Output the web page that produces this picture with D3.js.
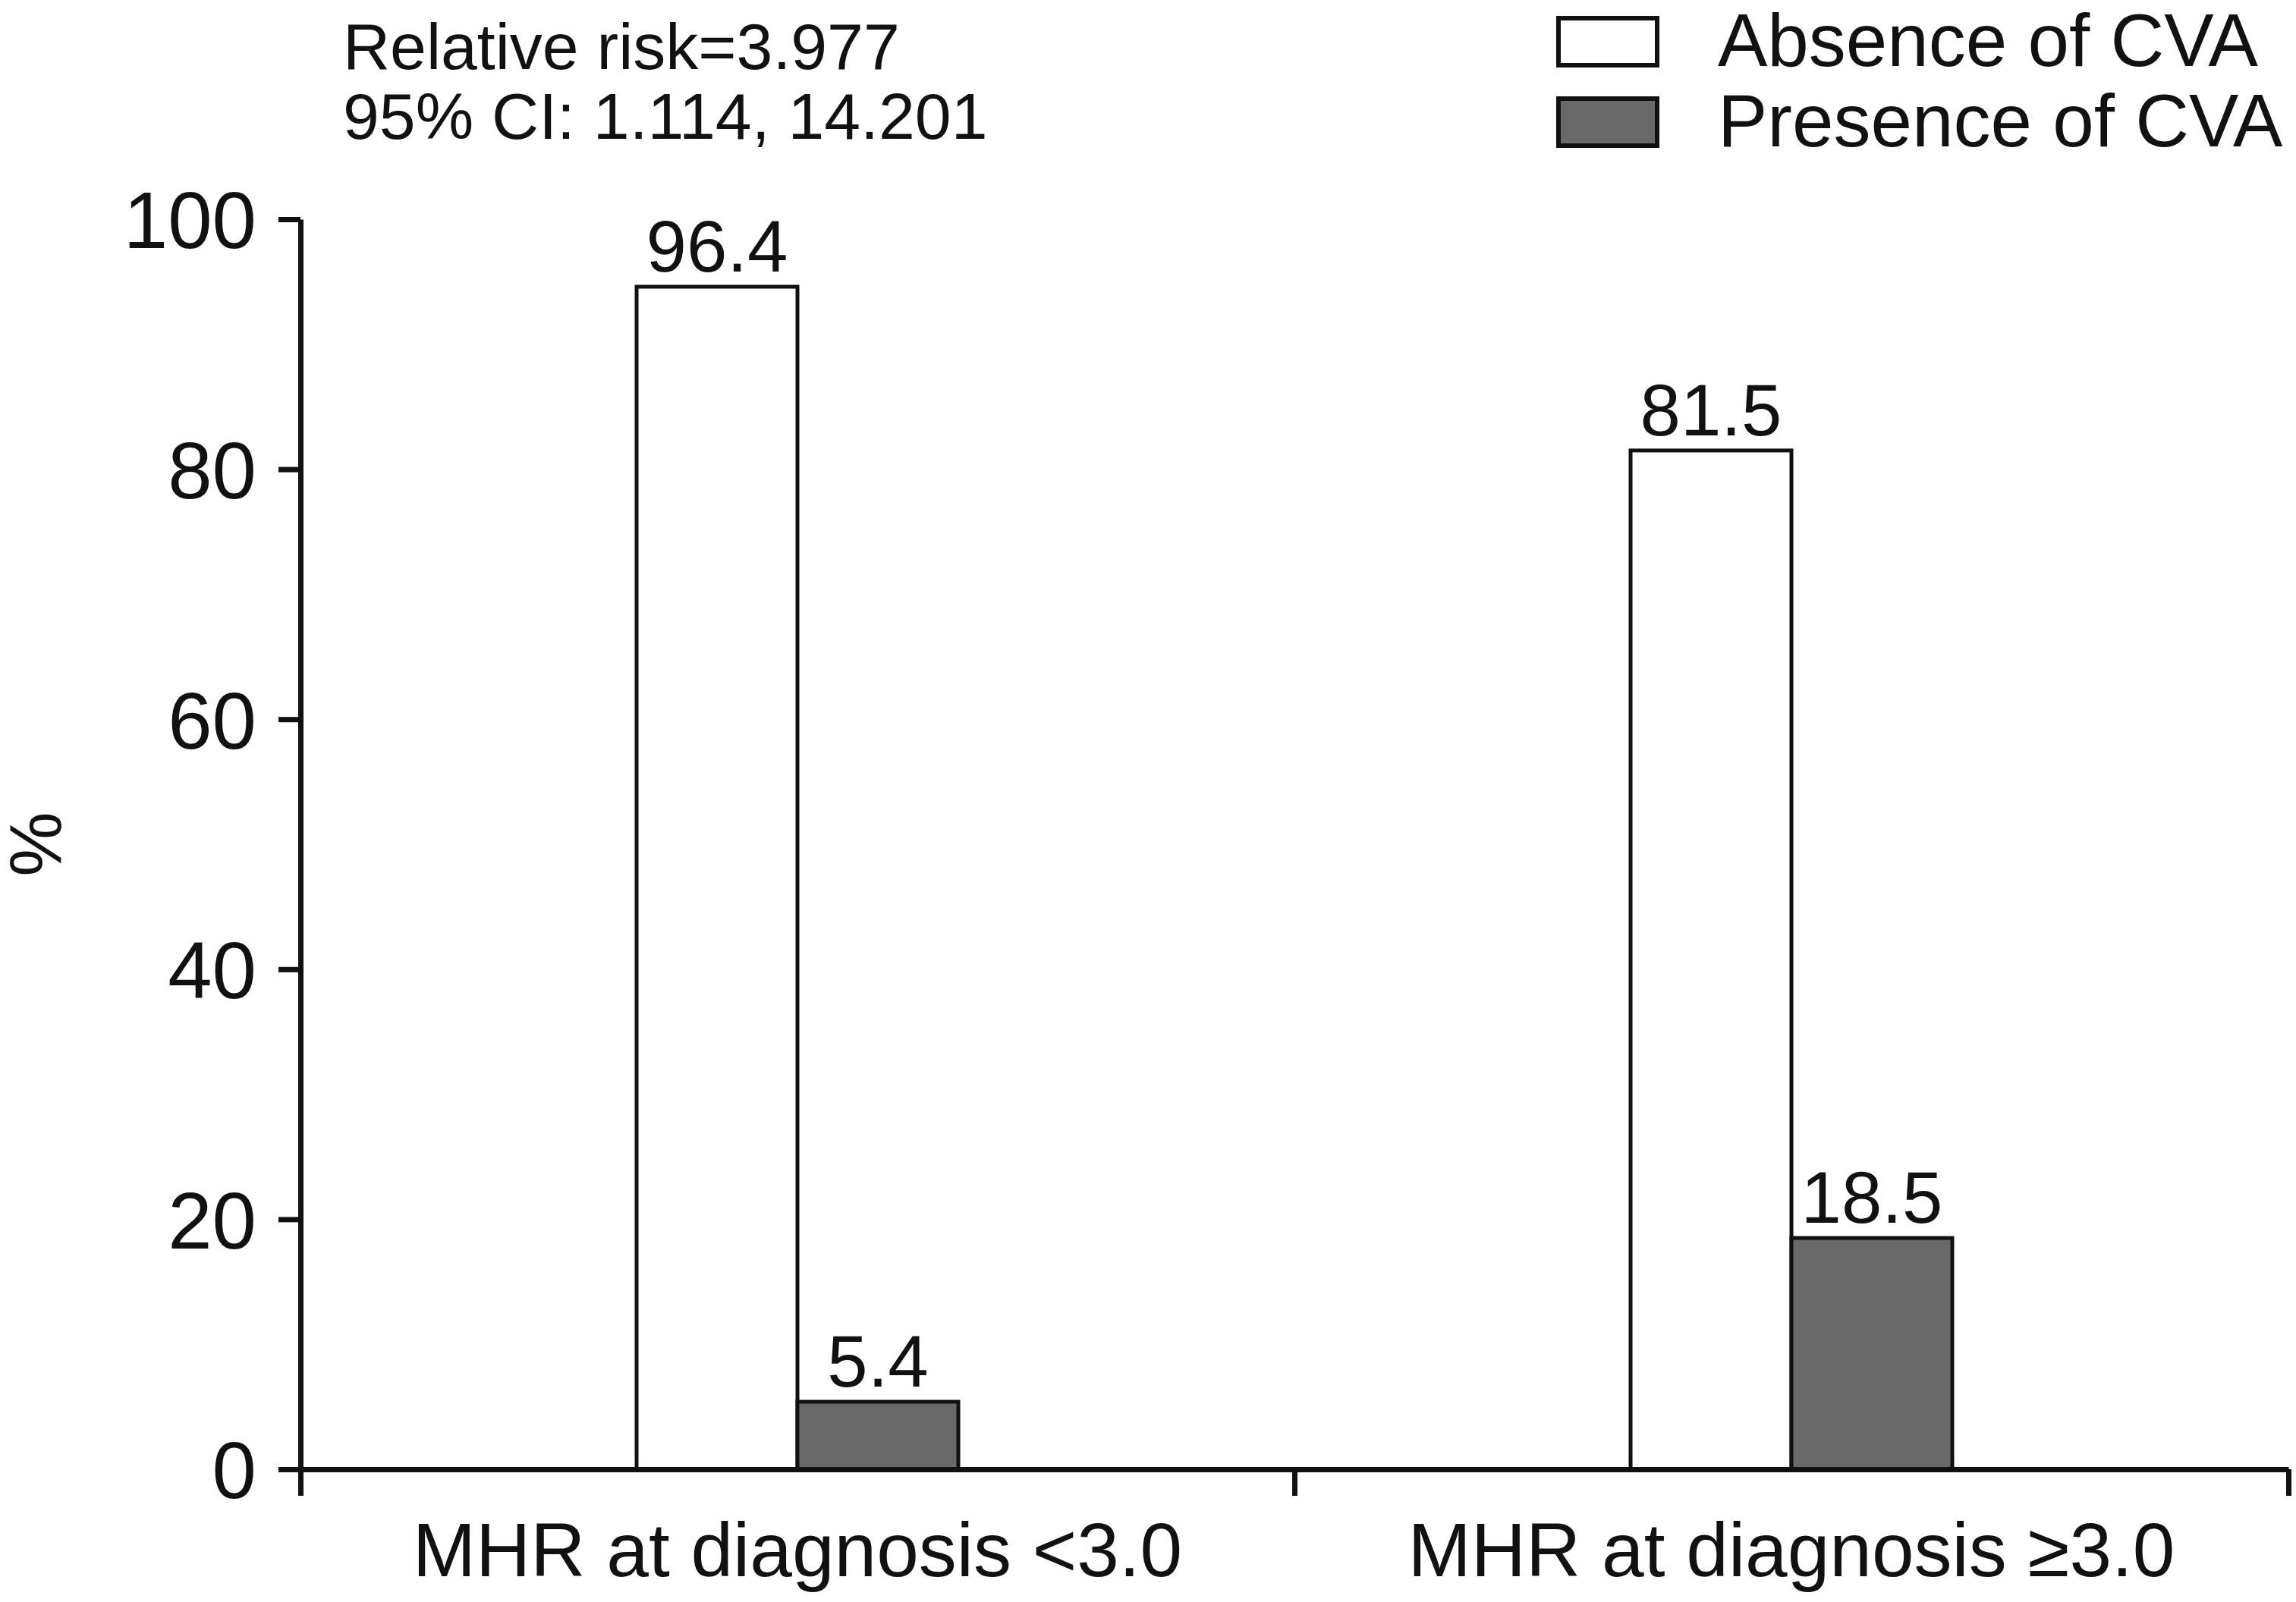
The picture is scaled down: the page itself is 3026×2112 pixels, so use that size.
<!DOCTYPE html>
<html>
<head>
<meta charset="utf-8">
<script src="https://cdn.jsdelivr.net/npm/d3@7"></script>
<style>
  body { margin: 0; background: #fff; }
  svg text { font-family: "Liberation Sans", Arial, sans-serif; fill: #111; }
</style>
</head>
<body>
<svg id="chart" width="3026" height="2112"></svg>
<script>
// data
var categories = ["MHR at diagnosis <3.0", "MHR at diagnosis \u22653.0"];
var seriesNames = ["Absence of CVA", "Presence of CVA"];
var absenceHeight = [94.6, 81.5];   // bar tops as drawn
var absenceLabel = ["96.4", "81.5"];
var presenceHeight = [5.4, 18.5];
var presenceLabel = ["5.4", "18.5"];
var yTicks = [0, 20, 40, 60, 80, 100];
var notes = ["Relative risk=3.977", "95% CI: 1.114, 14.201"];

var ink = "#111",
    grey = "#696969",
    barW = 212,
    axisW = 7,
    barStroke = 5;

var svg = d3.select("svg#chart");

var plotLeft = 396, plotRight = 3016, plotTop = 289, plotBottom = 1937;

var y = d3.scaleLinear().domain([0, 100]).range([plotBottom, plotTop]);
var x = d3.scaleBand().domain(categories).range([plotLeft, plotRight]).padding(0);
var xEdge = d3.scaleLinear().domain([0, categories.length]).range([plotLeft, plotRight]);
var xSub = d3.scaleBand().domain(seriesNames)
    .range([x.bandwidth() / 2 - barW, x.bandwidth() / 2 + barW]);
var fill = d3.scaleOrdinal().domain(seriesNames).range(["#fff", grey]);

var rows = [];
categories.forEach(function(c, i) {
  rows.push({cat: c, s: seriesNames[0], v: absenceHeight[i], label: absenceLabel[i]});
  rows.push({cat: c, s: seriesNames[1], v: presenceHeight[i], label: presenceLabel[i]});
});

// bars
svg.append("g").selectAll("rect")
  .data(rows).enter().append("rect")
    .attr("x", function(d) { return x(d.cat) + xSub(d.s); })
    .attr("y", function(d) { return y(d.v); })
    .attr("width", xSub.bandwidth())
    .attr("height", function(d) { return y(0) - y(d.v); })
    .style("fill", function(d) { return fill(d.s); })
    .style("stroke", ink)
    .style("stroke-width", barStroke);

// value labels
svg.append("g").selectAll("text")
  .data(rows).enter().append("text")
    .attr("x", function(d) { return x(d.cat) + xSub(d.s) + xSub.bandwidth() / 2; })
    .attr("y", function(d) { return y(d.v) - 20; })
    .attr("text-anchor", "middle")
    .style("font-size", "96px")
    .text(function(d) { return d.label; });

// y axis
var yAxis = svg.append("g")
    .attr("transform", "translate(" + plotLeft + ",0)")
    .call(d3.axisLeft(y).tickValues(yTicks).tickSize(29).tickSizeOuter(0).tickPadding(29));
yAxis.selectAll("text").style("font-size", "105px").attr("dy", "0.36em");

// x axis: ticks at the band edges
var xAxis = svg.append("g")
    .attr("transform", "translate(0," + plotBottom + ")")
    .call(d3.axisBottom(xEdge).tickValues(d3.range(categories.length + 1))
      .tickSize(35).tickSizeOuter(0).tickFormat(""));

// category labels
var xLab = svg.append("g")
    .attr("transform", "translate(0," + plotBottom + ")")
    .call(d3.axisBottom(x).tickSize(0).tickPadding(70));
xLab.select(".domain").remove();
xLab.selectAll("text").style("font-size", "100px").attr("dy", "0.71em");

svg.selectAll(".domain, .tick line")
    .style("stroke", ink)
    .style("stroke-width", axisW);
svg.selectAll(".tick text").style("fill", ink);

// y title
svg.append("text")
    .attr("transform", "translate(80,1113) rotate(-90)")
    .attr("text-anchor", "middle")
    .style("font-size", "96px")
    .text("%");

// relative risk note
svg.append("g").selectAll("text")
  .data(notes).enter().append("text")
    .attr("x", 452)
    .attr("y", function(d, i) { return 91 + i * 92; })
    .style("font-size", "86px")
    .text(function(d) { return d; });

// legend
var legend = svg.append("g").selectAll("g")
  .data(seriesNames).enter().append("g")
    .attr("transform", function(d, i) { return "translate(2054," + (24 + i * 106) + ")"; });

legend.append("rect")
    .attr("width", 130)
    .attr("height", 62)
    .style("fill", function(d) { return fill(d); })
    .style("stroke", ink)
    .style("stroke-width", 6);

legend.append("text")
    .attr("x", 210)
    .attr("y", 63)
    .style("font-size", "98px")
    .text(function(d) { return d; });
</script>
</body>
</html>
